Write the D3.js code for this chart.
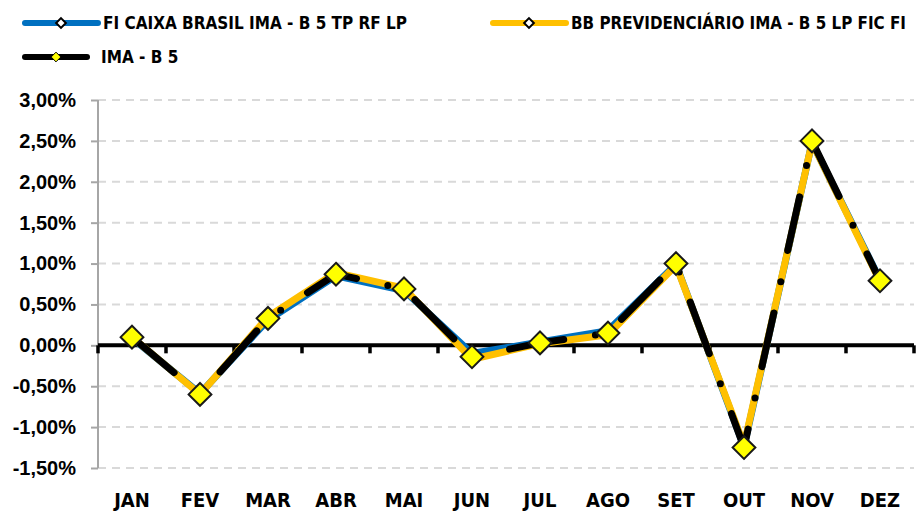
<!DOCTYPE html>
<html>
<head>
<meta charset="utf-8">
<script src="https://cdn.jsdelivr.net/npm/d3@7"></script>
<style>
  body { margin: 0; background: #fff; }
  svg { display: block; font-family: "Liberation Sans Narrow", "DejaVu Sans Condensed", sans-serif; font-weight: bold; }
</style>
</head>
<body>
<svg id="chart" width="917" height="513"></svg>
<script>
// data (monthly return, %)
var months = ["JAN", "FEV", "MAR", "ABR", "MAI", "JUN", "JUL", "AGO", "SET", "OUT", "NOV", "DEZ"];
var caixa = [0.09, -0.59, 0.31, 0.85, 0.67, -0.10, 0.04, 0.18, 0.99, -1.24, 2.48, 0.80];
var bbPrev = [0.10, -0.60, 0.35, 0.89, 0.70, -0.17, 0.02, 0.13, 0.98, -1.22, 2.48, 0.78];
var imaB5 = [0.10, -0.60, 0.33, 0.87, 0.69, -0.14, 0.03, 0.15, 1.00, -1.25, 2.50, 0.79];
var yTicks = [-1.5, -1, -0.5, 0, 0.5, 1, 1.5, 2, 2.5, 3];

var series = [
    { name: "FI CAIXA BRASIL IMA - B 5 TP RF LP", values: caixa, color: "#0070c0" },
    { name: "BB PREVIDENCIÁRIO IMA - B 5 LP FIC FI", values: bbPrev, color: "#ffc000" },
    { name: "IMA - B 5", values: imaB5, color: "#000000" }
];

var svg = d3.select("#chart"),
    margin = { top: 100, right: 3, bottom: 45, left: 98 },
    width = +svg.attr("width") - margin.left - margin.right,
    height = +svg.attr("height") - margin.top - margin.bottom,
    g = svg.append("g").attr("transform", "translate(" + margin.left + "," + margin.top + ")");

var x = d3.scaleBand().domain(months).range([0, width]);
var y = d3.scaleLinear().domain([-1.5, 3]).range([height, 0]);

var fmt = function (d) { return d.toFixed(2).replace(".", ",") + "%"; };

// dashed grid
g.append("g")
    .selectAll("line")
    .data(yTicks.filter(function (d) { return d !== 0; }))
    .enter().append("line")
    .attr("x1", 0)
    .attr("x2", width)
    .attr("y1", function (d) { return y(d); })
    .attr("y2", function (d) { return y(d); })
    .attr("stroke", "#d9d9d9")
    .attr("stroke-width", 2)
    .attr("stroke-dasharray", "8,6");

// y axis
var yAxis = g.append("g")
    .call(d3.axisLeft(y).tickValues(yTicks).tickSize(7).tickPadding(15).tickFormat(fmt));
yAxis.select(".domain").attr("stroke", "#a6a6a6").attr("stroke-width", 2).attr("d", "M0," + y(-1.5) + "V" + y(3));
yAxis.selectAll(".tick line").attr("stroke", "#a6a6a6").attr("stroke-width", 2);
yAxis.selectAll(".tick text")
    .attr("fill", "#000")
    .style("font-size", "20px")
    .style("font-weight", "bold")
    .style("font-family", "inherit");

// zero line with category ticks
var xAxis = g.append("g")
    .attr("transform", "translate(0," + y(0) + ")");
xAxis.append("line")
    .attr("x1", 0).attr("x2", width)
    .attr("stroke", "#000").attr("stroke-width", 4);
xAxis.selectAll(".cat-tick")
    .data(months.concat(["end"]))
    .enter().append("line")
    .attr("class", "cat-tick")
    .attr("x1", function (d, i) { return i * x.step(); })
    .attr("x2", function (d, i) { return i * x.step(); })
    .attr("y1", 0).attr("y2", 8)
    .attr("stroke", "#000").attr("stroke-width", 3.5);

// month labels
g.append("g")
    .selectAll("text")
    .data(months)
    .enter().append("text")
    .attr("x", function (d) { return x(d) + x.bandwidth() / 2; })
    .attr("y", height + 39)
    .attr("text-anchor", "middle")
    .style("font-size", "20px")
    .text(function (d) { return d; });

var line = d3.line()
    .x(function (d, i) { return x(months[i]) + x.bandwidth() / 2; })
    .y(function (d) { return y(d); });

// series lines
g.append("path").datum(caixa)
    .attr("d", line).attr("fill", "none")
    .attr("stroke", "#0070c0").attr("stroke-width", 7).attr("stroke-linejoin", "round");
g.append("path").datum(bbPrev)
    .attr("d", line).attr("fill", "none")
    .attr("stroke", "#ffc000").attr("stroke-width", 7).attr("stroke-linejoin", "round");
g.append("path").datum(imaB5)
    .attr("d", line).attr("fill", "none")
    .attr("stroke", "#000").attr("stroke-width", 7)
    .attr("stroke-linecap", "round")
    .attr("stroke-dasharray", "55,32,0,32");

// diamonds
var diamond = d3.symbol().type(d3.symbolDiamond2).size(330);
g.append("g")
    .selectAll("path")
    .data(imaB5)
    .enter().append("path")
    .attr("d", diamond)
    .attr("transform", function (d, i) {
        return "translate(" + (x(months[i]) + x.bandwidth() / 2) + "," + y(d) + ")";
    })
    .attr("fill", "#ffff00")
    .attr("stroke", "#1a1a1a")
    .attr("stroke-width", 2);

// legend
var legendPos = [[25, 23], [493, 23], [25, 57]];
var legendWidth = [304, 335, null];
var legend = svg.append("g")
    .selectAll("g")
    .data(series)
    .enter().append("g")
    .attr("transform", function (d, i) {
        return "translate(" + legendPos[i][0] + "," + legendPos[i][1] + ")";
    });

legend.append("line")
    .attr("x1", 0).attr("x2", function (d, i) { return i === 2 ? 62 : 73; })
    .attr("stroke", function (d) { return d.color; })
    .attr("stroke-width", 6)
    .attr("stroke-linecap", "round");

legend.append("path")
    .attr("d", d3.symbol().type(d3.symbolDiamond2).size(60))
    .attr("transform", function (d, i) { return "translate(" + (i === 2 ? 31 : 36) + ",0)"; })
    .attr("fill", function (d, i) { return i === 2 ? "#ffff00" : "#fff"; })
    .attr("stroke", "#000")
    .attr("stroke-width", function (d, i) { return i === 2 ? 1 : 2; });

legend.append("text")
    .attr("x", function (d, i) { return i === 2 ? 76 : 78; })
    .attr("dy", "0.36em")
    .style("font-size", "17px")
    .each(function (d, i) {
        if (legendWidth[i]) {
            d3.select(this).attr("textLength", legendWidth[i]).attr("lengthAdjust", "spacingAndGlyphs");
        }
    })
    .text(function (d) { return d.name; });
</script>
</body>
</html>
